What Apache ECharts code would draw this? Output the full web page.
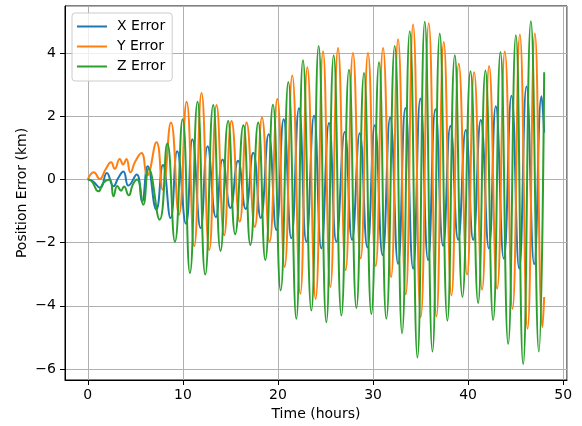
<!DOCTYPE html>
<html>
<head>
<meta charset="utf-8">
<script src="https://cdn.jsdelivr.net/npm/echarts@6/dist/echarts.min.js"></script>
<style>
  html, body { margin: 0; padding: 0; background: #fff; }
  #chart { width: 582px; height: 426px; }
</style>
</head>
<body>
<div id="chart"></div>
<script>
// Position error components (km) at their turning points over 48 hours
const xErrTimes = [0, 0.5, 1.3, 2.0, 2.7, 3.2, 3.74, 4.27, 5.14, 5.7, 6.3, 7.2, 7.9, 8.7, 9.4, 10.32, 11.0, 11.86, 12.6, 13.47, 14.17, 15.0, 15.8, 16.6, 17.4, 18.18, 19.02, 19.82, 20.6, 21.4, 22.21, 22.98, 23.79, 24.56, 25.37, 26.14, 27.02, 27.79, 28.6, 29.4, 30.18, 31.0, 31.8, 32.63, 33.4, 34.21, 34.98, 35.79, 36.56, 37.37, 38.14, 38.95, 39.75, 40.53, 41.33, 42.18, 42.91, 43.75, 44.56, 45.37, 46.14, 46.95, 47.72, 48.0];
const xErrValues = [0, -0.05, -0.26, 0.21, -0.21, 0.05, 0.26, -0.19, 0.16, -0.7, 0.42, -0.95, 0.46, -1.22, 0.9, -1.4, 1.28, -1.54, 1.06, -1.19, 0.64, -0.9, 0.6, -0.93, 0.85, -1.22, 1.44, -1.6, 1.91, -1.86, 2.26, -1.97, 2.02, -2.18, 1.79, -1.97, 1.51, -1.91, 1.47, -2.15, 1.72, -2.39, 1.97, -2.67, 2.27, -2.82, 2.57, -2.55, 2.23, -2.1, 1.7, -1.91, 1.57, -1.91, 1.89, -2.18, 2.32, -2.5, 2.66, -2.82, 2.95, -2.68, 2.64, 1.49];

const yErrTimes = [0, 0.63, 1.26, 1.86, 2.45, 2.84, 3.36, 3.71, 4.06, 4.48, 5.0, 5.64, 6.23, 7.22, 7.88, 8.74, 9.58, 10.39, 11.19, 11.96, 12.77, 13.54, 14.34, 15.12, 15.98, 16.7, 17.56, 18.32, 19.12, 19.93, 20.7, 21.5, 22.35, 23.09, 23.96, 24.74, 25.51, 26.32, 27.12, 27.89, 28.7, 29.47, 30.28, 31.05, 31.9, 32.63, 33.44, 34.21, 35.02, 35.86, 36.67, 37.44, 38.25, 39.02, 39.89, 40.63, 41.47, 42.21, 43.05, 43.86, 44.67, 45.44, 46.25, 47.02, 47.82, 48.0];
const yErrValues = [0, 0.23, 0.02, 0.32, 0.55, 0.34, 0.65, 0.48, 0.65, 0.23, 0.58, 0.84, 0.13, 1.18, -0.32, 1.81, -1.12, 2.47, -2.11, 2.74, -2.23, 2.36, -1.76, 1.86, -1.33, 1.81, -1.5, 1.97, -1.97, 2.55, -2.77, 3.3, -3.62, 3.56, -3.78, 4.07, -3.4, 4.17, -2.87, 4.01, -2.5, 4.01, -2.74, 4.17, -3.09, 4.45, -3.64, 4.91, -4.36, 4.95, -4.34, 4.36, -3.67, 3.67, -3.01, 3.4, -3.49, 3.6, -3.46, 4.06, -4.1, 4.6, -4.73, 4.63, -4.68, -3.72];

const zErrTimes = [0, 0.4, 1.12, 1.64, 2.3, 2.7, 3.1, 3.5, 3.8, 4.3, 4.75, 5.2, 5.82, 6.4, 7.55, 8.36, 9.16, 9.97, 10.74, 11.54, 12.35, 13.19, 13.96, 14.76, 15.5, 16.36, 17.1, 17.92, 18.67, 19.47, 20.28, 21.09, 21.93, 22.63, 23.51, 24.28, 25.09, 25.86, 26.67, 27.47, 28.25, 29.05, 29.82, 30.63, 31.4, 32.28, 33.05, 33.86, 34.67, 35.44, 36.25, 37.02, 37.82, 38.6, 39.4, 40.25, 41.05, 41.82, 42.63, 43.4, 44.21, 45.02, 45.79, 46.6, 47.44, 48.0];
const zErrValues = [0, -0.05, -0.37, -0.1, 0.0, -0.53, -0.2, -0.35, -0.22, -0.5, -0.15, 0.0, -0.8, 0.35, -1.27, 1.14, -1.97, 1.91, -2.96, 2.47, -3.01, 2.36, -2.26, 1.86, -1.73, 1.72, -2.07, 1.81, -2.55, 2.37, -3.51, 3.09, -4.41, 3.78, -4.15, 4.23, -4.52, 3.94, -4.31, 3.48, -4.07, 3.38, -4.26, 3.72, -4.41, 4.23, -4.87, 4.7, -5.64, 5.0, -5.45, 4.63, -4.47, 3.94, -3.72, 3.43, -3.91, 3.46, -4.45, 4.04, -5.21, 4.57, -5.85, 5.02, -5.45, 3.4];

const seriesNames = ['X Error', 'Y Error', 'Z Error'];
const seriesColors = ['#1f77b4', '#ff7f0e', '#2ca02c'];

const xTicks = [0, 10, 20, 30, 40, 50];
const yTicks = [-6, -4, -2, 0, 2, 4];

function pairs(ts, vs) {
  return ts.map((t, i) => [t, vs[i]]);
}
const seriesData = [
  pairs(xErrTimes, xErrValues),
  pairs(yErrTimes, yErrValues),
  pairs(zErrTimes, zErrValues)
];

const fontFamily = 'DejaVu Sans';
const fontSize = 14;
const minus = v => String(v).replace('-', '\u2212');

const chart = echarts.init(document.getElementById('chart'), null, { renderer: 'canvas' });

chart.setOption({
  animation: false,
  backgroundColor: '#ffffff',
  textStyle: { fontFamily: fontFamily },
  grid: {
    left: 65, right: 15, top: 6, bottom: 46,
    show: true, borderColor: '#000000', borderWidth: 1, backgroundColor: 'transparent'
  },
  legend: {
    orient: 'vertical',
    left: 72, top: 13,
    padding: [6, 7, 7, 5],
    itemGap: 5,
    itemWidth: 30, itemHeight: 2,
    icon: 'rect',
    backgroundColor: 'rgba(255,255,255,0.8)',
    borderColor: '#cccccc', borderWidth: 1, borderRadius: 3,
    textStyle: { fontSize: fontSize, color: '#000', fontFamily: fontFamily, lineHeight: 15, padding: [0, 0, 0, 5] },
    data: seriesNames
  },
  xAxis: {
    type: 'value',
    min: -2.4, max: 50.4,
    splitNumber: 5,
    name: 'Time (hours)',
    nameLocation: 'middle',
    nameGap: 25,
    nameTextStyle: { fontSize: fontSize, color: '#000', fontFamily: fontFamily },
    axisLine: { show: true, onZero: false, lineStyle: { color: '#000', width: 1 } },
    axisTick: { show: true, inside: false, length: 5, lineStyle: { color: '#000' } },
    axisLabel: {
      color: '#000', fontSize: fontSize, margin: 8, fontFamily: fontFamily,
      showMinLabel: false, showMaxLabel: false,
      formatter: v => xTicks.includes(v) ? minus(v) : ''
    },
    splitLine: { show: true, lineStyle: { color: '#b0b0b0', width: 1 } }
  },
  yAxis: {
    type: 'value',
    min: -6.35, max: 5.5,
    splitNumber: 5,
    name: 'Position Error (km)',
    nameLocation: 'middle',
    nameGap: 36,
    nameMoveOverlap: false,
    nameTextStyle: { fontSize: fontSize, color: '#000', fontFamily: fontFamily },
    axisLine: { show: true, onZero: false, lineStyle: { color: '#000', width: 1 } },
    axisTick: { show: true, inside: false, length: 5, lineStyle: { color: '#000' } },
    axisLabel: {
      color: '#000', fontSize: fontSize, margin: 9, fontFamily: fontFamily,
      showMinLabel: false, showMaxLabel: false,
      formatter: v => yTicks.includes(v) ? minus(v) : ''
    },
    splitLine: { show: true, lineStyle: { color: '#b0b0b0', width: 1 } }
  },
  series: seriesNames.map((name, i) => ({
    name: name,
    type: 'line',
    data: seriesData[i],
    showSymbol: false,
    smooth: 0.5,
    clip: true,
    lineStyle: { color: seriesColors[i], width: 2 },
    itemStyle: { color: seriesColors[i] },
    z: 2 + i
  }))
});
</script>
</body>
</html>
